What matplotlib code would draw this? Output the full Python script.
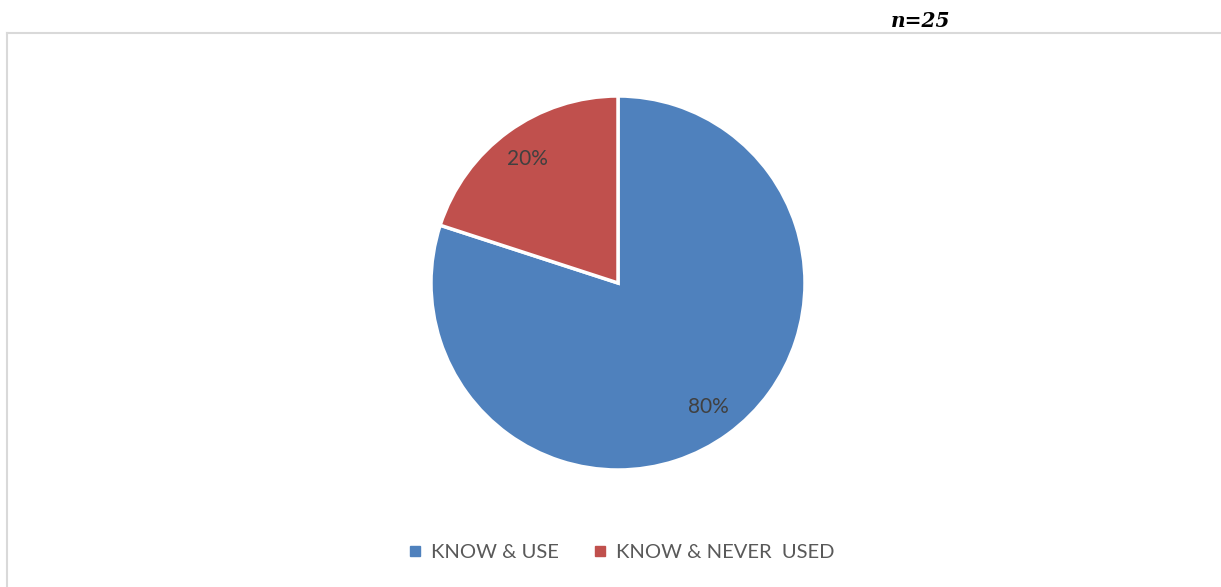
import matplotlib.pyplot as plt
from matplotlib.lines import Line2D

labels = ["KNOW & USE", "KNOW & NEVER  USED"]
shares = [80, 20]
colors = ["#4f81bd", "#c0504d"]
sample_note = "n=25"

W, H = 1221, 587
fig = plt.figure(figsize=(W / 100, H / 100), dpi=100)
fig.patch.set_facecolor("white")

# chart area border (top and left edges only)
fig.add_artist(Line2D([7 / W, 1.0], [1 - 33 / H, 1 - 33 / H], color="#d9d9d9", lw=1.5))
fig.add_artist(Line2D([7 / W, 7 / W], [1 - 33 / H, 0.0], color="#d9d9d9", lw=1.5))

cx, cy, r = 618, 283, 187
ax = fig.add_axes([(cx - r) / W, (H - cy - r) / H, 2 * r / W, 2 * r / H])
wedges, texts, autotexts = ax.pie(
    shares, colors=colors, startangle=90, counterclock=False,
    autopct="%d%%", pctdistance=0.82, radius=1.0,
    wedgeprops=dict(edgecolor="white", linewidth=2.5),
    textprops=dict(color="#404040", fontsize=15, family="Lato"),
)
ax.set_xlim(-1.0, 1.0)
ax.set_ylim(-1.0, 1.0)
ax.axis("off")

fig.text(921 / W, 1 - 21 / H, sample_note, ha="center", va="center",
         fontsize=14.5, fontweight="bold", family="DejaVu Serif", style="italic")

handles = [Line2D([], [], marker="s", linestyle="", markersize=6.5,
                  markerfacecolor=c, markeredgecolor=c) for c in colors]
fig.legend(handles, labels, loc="center", bbox_to_anchor=(621 / W, 1 - 552 / H),
           ncol=2, frameon=False, handletextpad=0.4, columnspacing=1.65,
           handlelength=0.8, prop=dict(family="Lato", size=14.5),
           labelcolor="#595959")

fig.savefig("out.png", dpi=100)
